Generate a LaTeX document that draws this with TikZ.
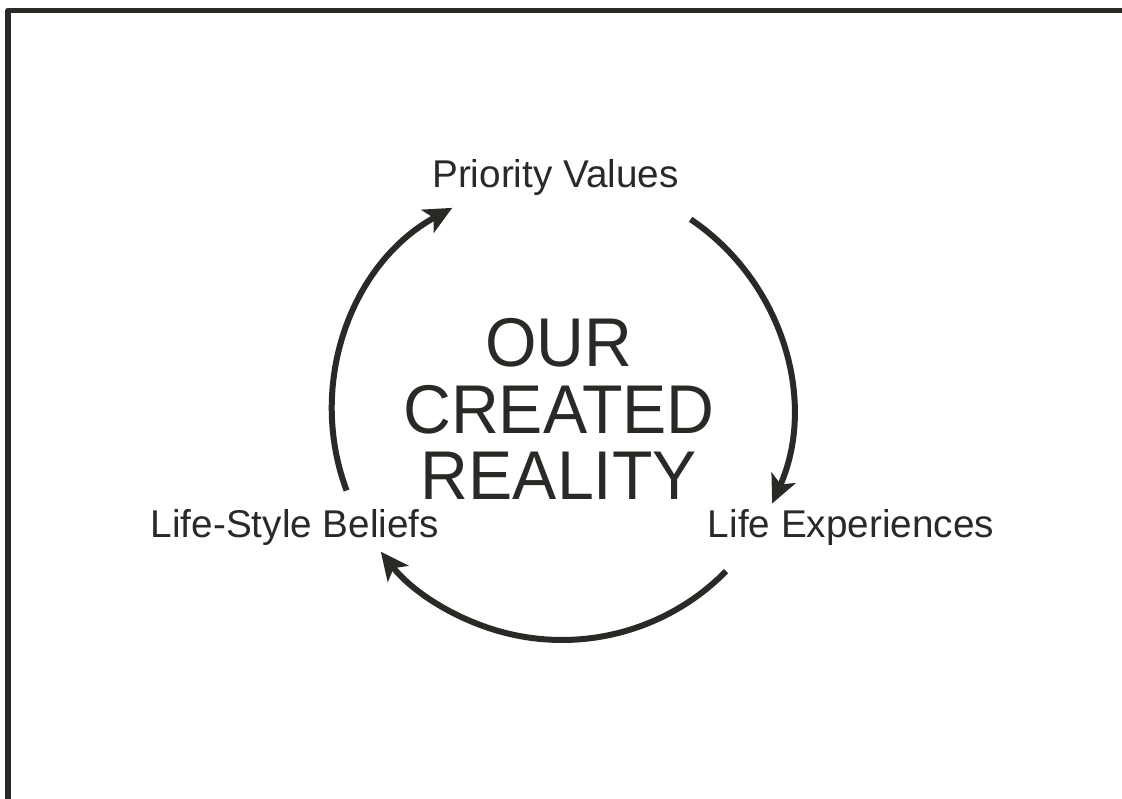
\documentclass[tikz,border=0pt]{standalone}
\usepackage{fontspec}
\setmainfont{Liberation Sans}
\usetikzlibrary{arrows.meta}
\definecolor{ink}{RGB}{42,41,38}
\tikzset{
  label text/.style={text=ink, font=\fontsize{38.7}{42}\selectfont, inner sep=0pt},
  cycle arrow/.style={draw=ink, line width=6pt,
    -{Stealth[length=28pt, width=26pt, inset=7pt]}},
  frame line/.style={draw=ink, line width=5.5pt, line join=round}
}
\begin{document}
\begin{tikzpicture}[x=1pt, y=1pt]
  \useasboundingbox (0,0) rectangle (1122,799);
  % frame along top and left edges
  \coordinate (fb) at (8,0);
  \coordinate (fc) at (8,788.5);
  \coordinate (fr) at (1122,788.5);
  \draw[frame line] (fb) -- (fc) -- (fr);

  % centre of the cycle
  \coordinate (c) at (562,389);

  % cycle labels
  \node[label text, anchor=base] (pv) at (555.5,611) {Priority Values};
  \node[label text, anchor=base] (lsb) at (295,261) {Life-Style Beliefs};
  \node[label text, anchor=base] (le) at (851,261) {Life Experiences};

  % central title (base anchor sits on the last line)
  \node[text=ink, inner sep=0pt, align=center, anchor=base,
        xscale=0.96, transform shape,
        font=\fontsize{69}{66.5}\selectfont] (title) at (559,299)
        {OUR\\CREATED\\REALITY};

  % arcs of the cycle
  \draw[cycle arrow] ([shift={(56:230)}]c) arc[start angle=56, end angle=-24, radius=230];
  \draw[cycle arrow] ([shift={(-44.5:230)}]c) arc[start angle=-44.5, end angle=-142, radius=230];
  \draw[cycle arrow] ([shift={(200.5:230)}]c) arc[start angle=200.5, end angle=118.5, radius=230];
\end{tikzpicture}
\end{document}
